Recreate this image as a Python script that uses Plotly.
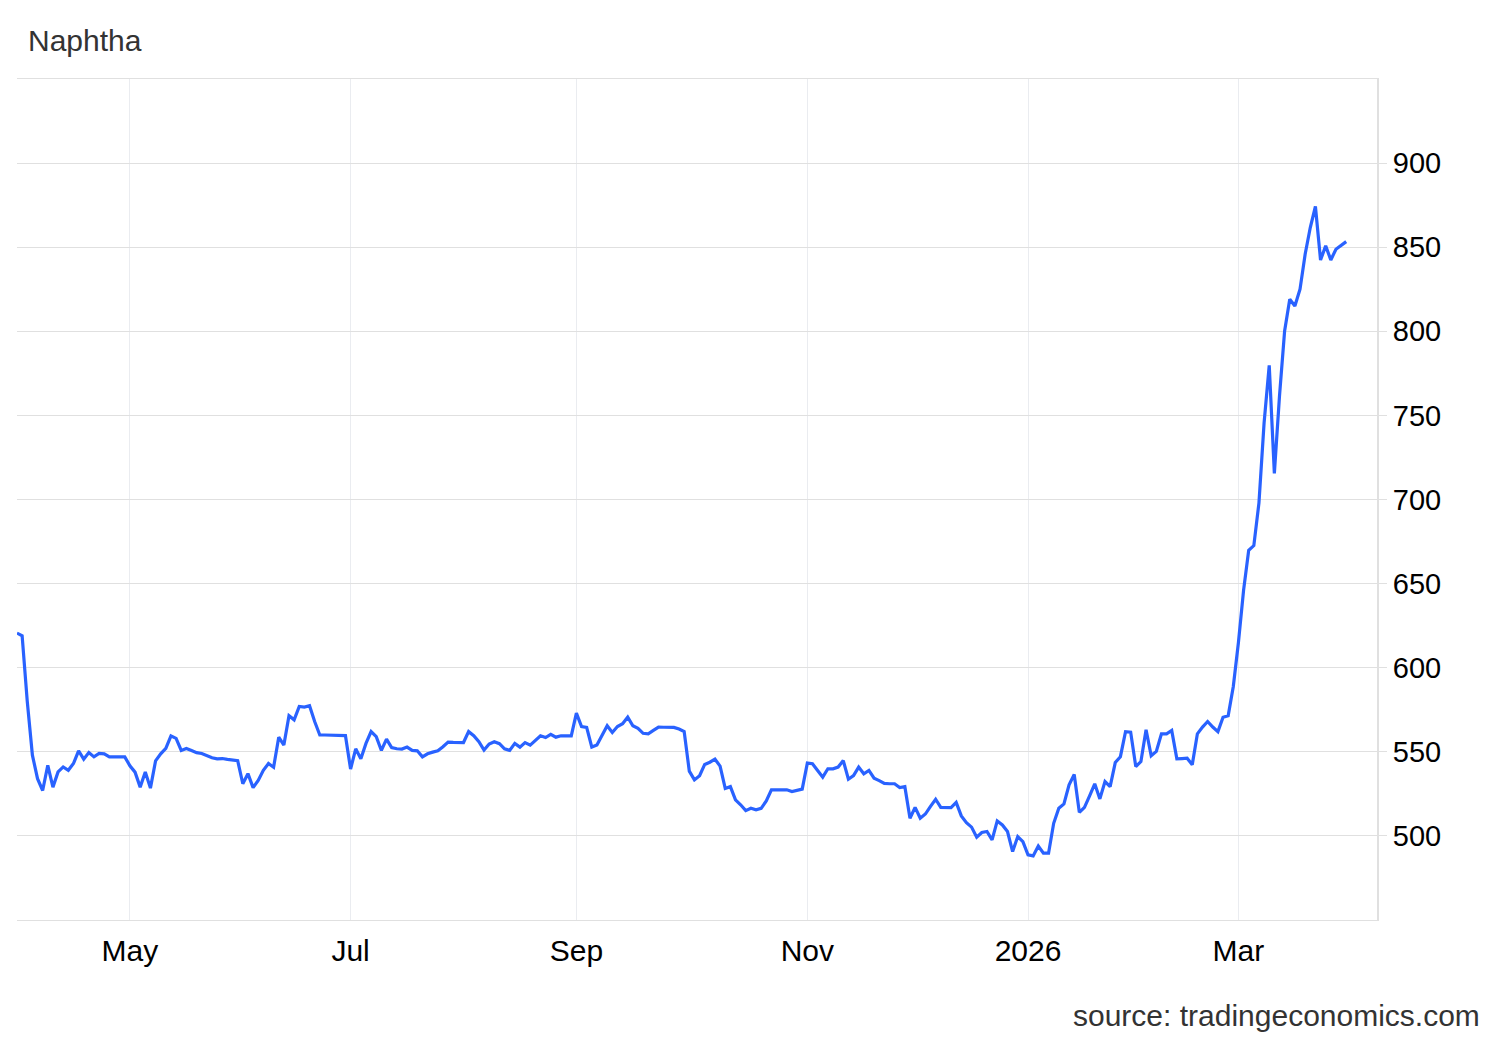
import pandas as pd
import plotly.graph_objects as go

# ---- data (daily naphtha price, trading days Apr 1 2025 -> Mar 31 2026) ----
start_date = "2025-04-01"
end_date = "2026-03-31"
holidays = ["2026-01-01"]

values = [
    620.6, 619, 580, 548, 534, 527, 542, 529, 538, 541,
    539, 543, 550.6, 545.6, 549.6, 547, 549, 548.8, 547, 547,
    547, 547, 541.7, 537.9, 529, 538, 528.4, 544.6, 548.8, 552,
    559.5, 558, 550.8, 552, 550.8, 549.5, 549, 547.5, 546.5, 545.8,
    546, 545.5, 545, 544.7, 531, 537, 528.7, 533, 539, 543,
    540.8, 558.7, 554, 571.5, 569, 577, 576.6, 577.4, 568, 560,
    560, 560, 559.8, 559.6, 559.6, 539.7, 551.8, 545.8, 555, 562,
    559, 550.8, 557.5, 552.5, 551.8, 551.6, 552.8, 550.8, 550.6, 547,
    548.8, 549.8, 550.6, 553, 555.8, 555.6, 555.6, 555.5, 562, 559.6,
    556, 551, 554.6, 556, 554.8, 551.8, 550.8, 555, 552.8, 555.5,
    554, 557, 559.5, 558.5, 560.4, 558.7, 559.5, 559.5, 559.5, 573,
    565, 564.5, 552.8, 554, 559.5, 565.5, 561.5, 565, 566.7, 570.6,
    565.5, 564, 561, 560.7, 562.7, 564.7, 564.6, 564.5, 564.5, 563.5,
    562, 538.5, 533.3, 535.8, 542.5, 543.8, 545.6, 541.5, 528.2, 529.3,
    521.4, 518.5, 515, 516.4, 515.5, 516.4, 520.8, 527.4, 527.4, 527.4,
    527.4, 526.4, 527, 527.8, 543.3, 542.9, 538.9, 534.9, 539.9, 539.9,
    540.9, 544.8, 533.7, 535.9, 540.9, 536.9, 538.9, 534.3, 532.9, 531.2,
    531, 531, 528.8, 529.3, 510.5, 517, 510.5, 513, 517.6, 521.8,
    517, 516.8, 516.8, 519.9, 511.9, 507.9, 505.2, 499.2, 502, 502.6,
    497.6, 508.9, 506.5, 502.6, 490.7, 499.6, 496.6, 488.7, 488.1, 494,
    489.7, 489.7, 507.5, 516.5, 519, 530.4, 536.5, 514, 517, 523.8,
    531, 522, 532.3, 529.3, 543.6, 547.1, 562, 561.7, 541.2, 544.2,
    563.1, 547.6, 550.2, 560.7, 560.7, 562.7, 545.8, 546, 546.2, 542.3,
    560.7, 564.7, 568, 564.7, 562, 570.5, 571.4, 588.8, 615, 646,
    669.8, 672.6, 698, 745.6, 779.8, 715.5, 761.5, 800.2, 819, 815,
    825, 845.8, 861.7, 874.2, 842.4, 850.8, 842.4, 848.8, 851.2, 853.3,
]

x_tick_vals = ["2025-05-01", "2025-07-01", "2025-09-01", "2025-11-03", "2026-01-02", "2026-03-02"]
x_tick_text = ["May", "Jul", "Sep", "Nov", "2026", "Mar"]
y_tick_vals = [500, 550, 600, 650, 700, 750, 800, 850, 900]
x_range = ["2025-04-01", "2026-04-08"]
y_range = [450, 950]

title_text = "Naphtha"
source_text = "source: tradingeconomics.com"

dates = pd.bdate_range(start_date, end_date)
dates = dates[~dates.isin(pd.to_datetime(holidays))]
assert len(dates) == len(values), (len(dates), len(values))

FONT = "Arial, Liberation Sans, Helvetica, sans-serif"
W, H = 1500, 1040
ML, MR, MT, MB = 17, 123, 79, 120

fig = go.Figure()
fig.add_trace(go.Scatter(
    x=dates, y=values, mode="lines",
    line=dict(color="#2962ff", width=3.2),
    hoverinfo="x+y", showlegend=False,
))

fig.update_layout(
    width=W, height=H,
    margin=dict(l=ML, r=MR, t=MT, b=MB, pad=0),
    paper_bgcolor="white", plot_bgcolor="white",
    font=dict(family=FONT, size=28, color="#000000"),
    title=dict(text=title_text, xref="container", yref="container",
               x=28 / W, y=1 - 40 / H, xanchor="left", yanchor="middle",
               font=dict(family=FONT, size=30, color="#333333")),
    annotations=[dict(
        text=source_text, xref="paper", yref="paper",
        x=(1482 - ML) / (W - ML - MR), y=-(1016 - (H - MB)) / (H - MT - MB),
        xanchor="right", yanchor="middle", showarrow=False,
        font=dict(family=FONT, size=30, color="#333333"),
    )],
)

fig.update_xaxes(
    type="date", range=x_range,
    rangebreaks=[dict(bounds=["sat", "mon"]), dict(values=holidays)],
    tickmode="array", tickvals=x_tick_vals, ticktext=x_tick_text,
    showgrid=True, gridcolor="#eaecf0", gridwidth=1,
    showline=True, linecolor="#e0e0e0", linewidth=1, mirror=True,
    ticks="", zeroline=False, ticklabelstandoff=4,
    tickfont=dict(family=FONT, size=30, color="#000000"),
)
fig.update_yaxes(
    range=y_range, side="right",
    tickmode="array", tickvals=y_tick_vals,
    showgrid=True, gridcolor="#e0e0e0", gridwidth=1,
    showline=True, linecolor="#e0e0e0", linewidth=2,
    ticks="outside", ticklen=8, tickcolor="#e0e0e0", tickwidth=1,
    zeroline=False, ticklabelstandoff=0,
    tickfont=dict(family=FONT, size=29, color="#000000"),
)

fig.write_html("out.html", config={"displayModeBar": False},
               post_script="document.body.style.margin='0';")
